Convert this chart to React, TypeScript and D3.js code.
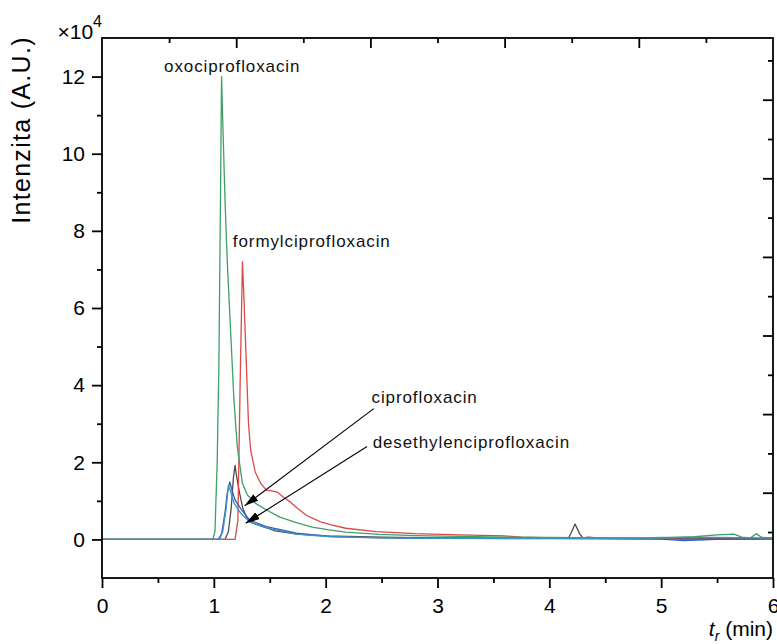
import React, { useRef, useEffect } from "react";
import { select, scaleLinear, line, axisBottom, axisLeft, axisTop, axisRight } from "d3";

const width = 777;
const height = 644;
const margin = { top: 38, right: 4, bottom: 66, left: 102 };

// chromatogram traces: [retention time (min), intensity (x10^4)]
const oxociprofloxacin = [
  [0, 0], [0.99, 0], [1.01, 0.2], [1.03, 2], [1.045, 4.5], [1.06, 9], [1.069, 12],
  [1.08, 10.8], [1.1, 8.8], [1.12, 7.2], [1.15, 5.4], [1.18, 3.6], [1.21, 2.4],
  [1.255, 1.46], [1.3, 1.15], [1.37, 0.94], [1.48, 0.75], [1.59, 0.58], [1.73, 0.44],
  [1.88, 0.32], [2.03, 0.25], [2.18, 0.19], [2.48, 0.13], [2.8, 0.1], [3.2, 0.08],
  [3.6, 0.06], [4.0, 0.05], [4.5, 0.04], [5.0, 0.04], [5.3, 0.07], [5.5, 0.12],
  [5.65, 0.14], [5.72, 0.06], [5.8, 0.04], [5.85, 0.15], [5.9, 0.05], [6, 0.04],
];
const formylciprofloxacin = [
  [0, 0], [1.19, 0], [1.215, 0.5], [1.235, 4], [1.256, 7.2], [1.27, 6.2], [1.29, 4.6],
  [1.31, 3.0], [1.33, 2.3], [1.37, 1.75], [1.42, 1.45], [1.47, 1.28], [1.53, 1.25],
  [1.57, 1.22], [1.62, 1.1], [1.67, 1.0], [1.75, 0.8], [1.83, 0.62], [1.95, 0.46],
  [2.05, 0.38], [2.18, 0.29], [2.45, 0.2], [2.8, 0.15], [3.2, 0.12], [3.6, 0.09],
  [3.75, 0.06], [4.0, 0.04], [4.4, 0.03], [5.0, 0.02], [5.2, 0.0], [5.6, 0.01], [6, 0.02],
];
const ciprofloxacin = [
  [0, 0], [1.1, 0], [1.13, 0.2], [1.155, 0.8], [1.175, 1.6], [1.19, 1.92], [1.2, 1.7],
  [1.23, 1.2], [1.26, 0.8], [1.29, 0.59], [1.35, 0.42], [1.44, 0.33], [1.55, 0.22],
  [1.74, 0.14], [2.0, 0.09], [2.5, 0.06], [3, 0.04], [4.0, 0.03], [4.17, 0.03],
  [4.2, 0.2], [4.23, 0.4], [4.27, 0.15], [4.3, 0.04], [4.35, 0.06], [4.45, 0.03],
  [5, 0.02], [6, 0.02],
];
const desethylenciprofloxacin = [
  [0, 0], [1.04, 0], [1.07, 0.15], [1.1, 0.7], [1.12, 1.2], [1.143, 1.49], [1.16, 1.3],
  [1.19, 1.02], [1.25, 0.76], [1.32, 0.5], [1.47, 0.33], [1.74, 0.16], [2.04, 0.08],
  [2.5, 0.04], [3, 0.03], [4, 0.02], [5, 0.01], [5.2, -0.03], [5.5, 0], [6, 0.01],
];
const blank = [
  [0, 0], [1.05, 0], [1.08, 0.2], [1.11, 0.8], [1.13, 1.4], [1.15, 1.25], [1.18, 0.95],
  [1.24, 0.68], [1.32, 0.45], [1.47, 0.3], [1.74, 0.14], [2.04, 0.07], [2.5, 0.04],
  [3, 0.03], [4, 0.03], [4.8, 0.03], [5.0, 0.05], [5.5, 0.05], [6, 0.04],
];

const series = [
  { name: "ciprofloxacin", values: ciprofloxacin, color: "#4d4d4d" },
  { name: "formylciprofloxacin", values: formylciprofloxacin, color: "#d94a4a" },
  { name: "desethylenciprofloxacin", values: desethylenciprofloxacin, color: "#3060c0" },
  { name: "oxociprofloxacin", values: oxociprofloxacin, color: "#3f9f68" },
  { name: "blank", values: blank, color: "#3f93c0" },
];

const xMajor = [0, 1, 2, 3, 4, 5, 6];
const xMinor = [0.5, 1.5, 2.5, 3.5, 4.5, 5.5];
const yMajor = [0, 2, 4, 6, 8, 10, 12];
const yMinor = [1, 3, 5, 7, 9, 11];
// top and right frame axes carry their own divisions
const topMajor = [2, 4, 6, 8];
const topMinor = [1, 3, 5, 7, 9];
const rightMajor = [2, 4, 6, 8, 10, 12];
const rightMinor = [1, 3, 5, 7, 9, 11, 13];

// peak labels: [time, intensity] of text baseline start
const labels = [
  { text: "oxociprofloxacin", at: [0.555, 12.12] },
  { text: "formylciprofloxacin", at: [1.17, 7.58] },
  { text: "ciprofloxacin", at: [2.41, 3.54] },
  { text: "desethylenciprofloxacin", at: [2.42, 2.37] },
];
const arrows = [
  { from: [2.43, 3.39], to: [1.275, 0.87] },
  { from: [2.37, 2.41], to: [1.285, 0.42] },
];

const font = "'Liberation Sans', Arial, sans-serif";

export default function App() {
  const svgRef = useRef<SVGSVGElement>(null);

  useEffect(() => {
    const svg = select(svgRef.current);
    const x0 = margin.left;
    const x1 = width - margin.right;
    const y0 = height - margin.bottom;
    const y1 = margin.top;

    const xScale = scaleLinear().domain([0, 6]).range([x0, x1]);
    const yScale = scaleLinear().domain([-1, 13]).range([y0, y1]);
    const topScale = scaleLinear().domain([0, 10]).range([x0, x1]);
    const rightScale = scaleLinear().domain([-0.17, 13.57]).range([y0, y1]);

    const lineGenerator = line<number[]>()
      .x((d) => xScale(d[0]))
      .y((d) => yScale(d[1]));

    svg
      .select(".content")
      .selectAll(".trace")
      .data(series)
      .join("path")
      .attr("class", "trace")
      .attr("fill", "none")
      .attr("stroke", (d) => d.color)
      .attr("stroke-width", 1.3)
      .attr("stroke-linejoin", "round")
      .attr("d", (d) => lineGenerator(d.values));

    const styleAxis = (g) => {
      g.select(".domain").remove();
      g.selectAll("line").attr("stroke", "#000").attr("stroke-width", 1.8);
      g.selectAll("text")
        .attr("fill", "#000")
        .style("font-family", font)
        .style("font-size", "21px");
    };

    svg
      .select(".x-major")
      .attr("transform", `translate(0, ${y0})`)
      .call(axisBottom(xScale).tickValues(xMajor).tickSize(10).tickPadding(10).tickFormat((d) => `${d}`))
      .call(styleAxis);
    svg
      .select(".x-minor")
      .attr("transform", `translate(0, ${y0})`)
      .call(axisBottom(xScale).tickValues(xMinor).tickSize(5).tickFormat(() => ""))
      .call(styleAxis);
    svg
      .select(".y-major")
      .attr("transform", `translate(${x0}, 0)`)
      .call(axisLeft(yScale).tickValues(yMajor).tickSize(10).tickPadding(7).tickFormat((d) => `${d}`))
      .call(styleAxis);
    svg
      .select(".y-minor")
      .attr("transform", `translate(${x0}, 0)`)
      .call(axisLeft(yScale).tickValues(yMinor).tickSize(5).tickFormat(() => ""))
      .call(styleAxis);
    svg
      .select(".top-major")
      .attr("transform", `translate(0, ${y1})`)
      .call(axisTop(topScale).tickValues(topMajor).tickSize(-10).tickFormat(() => ""))
      .call(styleAxis);
    svg
      .select(".top-minor")
      .attr("transform", `translate(0, ${y1})`)
      .call(axisTop(topScale).tickValues(topMinor).tickSize(-5).tickFormat(() => ""))
      .call(styleAxis);
    svg
      .select(".right-major")
      .attr("transform", `translate(${x1}, 0)`)
      .call(axisRight(rightScale).tickValues(rightMajor).tickSize(-10).tickFormat(() => ""))
      .call(styleAxis);
    svg
      .select(".right-minor")
      .attr("transform", `translate(${x1}, 0)`)
      .call(axisRight(rightScale).tickValues(rightMinor).tickSize(-5).tickFormat(() => ""))
      .call(styleAxis);

    svg
      .select(".frame")
      .attr("x", x0)
      .attr("y", y1)
      .attr("width", x1 - x0)
      .attr("height", y0 - y1);
    svg
      .select("#plotClip rect")
      .attr("x", x0)
      .attr("y", y1)
      .attr("width", x1 - x0)
      .attr("height", y0 - y1);

    svg
      .select(".labels")
      .selectAll("text")
      .data(labels)
      .join("text")
      .attr("x", (d) => xScale(d.at[0]))
      .attr("y", (d) => yScale(d.at[1]))
      .attr("fill", "#111")
      .style("font-family", font)
      .style("font-size", "17px")
      .style("letter-spacing", "0.9px")
      .text((d) => d.text);

    svg
      .select(".arrows")
      .selectAll("line")
      .data(arrows)
      .join("line")
      .attr("x1", (d) => xScale(d.from[0]))
      .attr("y1", (d) => yScale(d.from[1]))
      .attr("x2", (d) => xScale(d.to[0]))
      .attr("y2", (d) => yScale(d.to[1]))
      .attr("stroke", "#000")
      .attr("stroke-width", 1.1)
      .attr("marker-end", "url(#arrowHead)");
  }, []);

  return (
    <div style={{ position: "absolute", left: 0, top: 0 }}>
      <svg ref={svgRef} width={width} height={height} style={{ display: "block", background: "#fff" }}>
        <defs>
          <clipPath id="plotClip">
            <rect />
          </clipPath>
          <marker
            id="arrowHead"
            viewBox="0 0 14 8"
            refX={14}
            refY={4}
            markerWidth={14}
            markerHeight={8}
            markerUnits="userSpaceOnUse"
            orient="auto"
          >
            <path d="M0,0 L14,4 L0,8 z" fill="#000" />
          </marker>
        </defs>
        <g className="content" clipPath="url(#plotClip)"></g>
        <g className="arrows" />
        <g className="labels" />
        <rect className="frame" fill="none" stroke="#000" strokeWidth={1.8} />
        <g className="x-major" />
        <g className="x-minor" />
        <g className="y-major" />
        <g className="y-minor" />
        <g className="top-major" />
        <g className="top-minor" />
        <g className="right-major" />
        <g className="right-minor" />
        <text x={102} y={39} textAnchor="end" style={{ fontFamily: font, fontSize: "21px" }}>
          <tspan>×10</tspan>
          <tspan dy={-12} style={{ fontSize: "16px" }}>4</tspan>
        </text>
        <text
          transform="translate(30, 130) rotate(-90)"
          textAnchor="middle"
          style={{ fontFamily: font, fontSize: "25px", letterSpacing: "1.3px" }}
        >
          Intenzita (A.U.)
        </text>
        <text x={773} y={636} textAnchor="end" style={{ fontFamily: font, fontSize: "21px" }}>
          <tspan style={{ fontStyle: "italic" }}>t</tspan>
          <tspan dy={5} style={{ fontStyle: "italic", fontSize: "14px" }}>r</tspan>
          <tspan dy={-5}> (min)</tspan>
        </text>
      </svg>
    </div>
  );
}
